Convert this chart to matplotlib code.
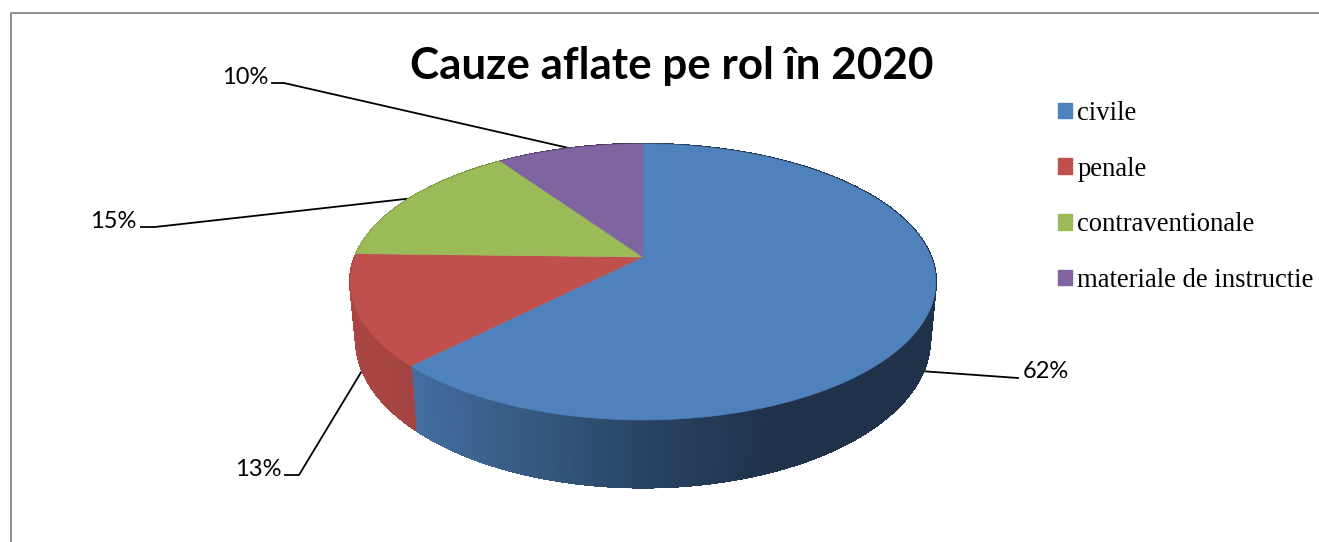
import numpy as np
import matplotlib
matplotlib.use("Agg")
import matplotlib.pyplot as plt
from matplotlib.collections import PolyCollection, LineCollection

title = "Cauze aflate pe rol în 2020"
categories = ["civile", "penale", "contraventionale", "materiale de instructie"]
values = [62.4, 13.0, 15.0, 9.6]
colors = ["#4F81BD", "#C0504D", "#9BBB59", "#8064A2"]

# where each percent label sits, and the bend of its leader line (pixels)
label_pos = [(1023, 371), (282, 469), (136, 221), (268, 77)]
elbow_pos = [(1018, 378), (299, 475), (155, 227), (284, 83)]
elbow_end = [(1018, 378), (285, 475), (141, 227), (272, 83)]

# pie geometry in pixels, a circle seen in perspective
CX, CY = 643, 257
B, A, K = 288, 133.5, 0.181
BOTTOM_CY, BOTTOM_SX, BOTTOM_SY = 313, 0.98, 1.07


def top_point(theta):
    u, v = np.sin(theta), np.cos(theta)
    w = 1 + K * v
    return CX + B * u / w, CY - A * v / w


def bottom_point(theta):
    u, v = np.sin(theta), np.cos(theta)
    w = 1 + K * v
    return CX + BOTTOM_SX * B * u / w, BOTTOM_CY - BOTTOM_SY * A * v / w


def wall_shade(x):
    return np.interp(x, [350, 415, 640, 770, 940], [0.88, 0.85, 0.53, 0.39, 0.39])


fig = plt.figure(figsize=(13.19, 5.42), dpi=100)
ax = fig.add_axes([0, 0, 1, 1])
ax.set_xlim(0, 1319)
ax.set_ylim(542, 0)
ax.axis("off")

# frame, only left and top are in the crop
ax.plot([11, 11, 1319], [542, 12.5, 12.5], color="#868686", lw=1.3, solid_capstyle="butt")

edges = np.cumsum([0] + values) / sum(values) * 2 * np.pi

# side wall first, the top covers the part behind it
for i in range(len(values)):
    thetas = np.linspace(edges[i], edges[i + 1], int(values[i] * 6) + 2)
    polys = []
    rim = []
    face = []
    base = np.array(matplotlib.colors.to_rgb(colors[i]))
    for t0, t1 in zip(thetas[:-1], thetas[1:]):
        x0, y0 = top_point(t0)
        x1, y1 = top_point(t1)
        x2, y2 = bottom_point(t1)
        x3, y3 = bottom_point(t0)
        polys.append([(x0, y0), (x1, y1), (x2, y2), (x3, y3)])
        rim.append([(x3, y3), (x2, y2)])
        face.append(base * wall_shade((x0 + x1 + x2 + x3) / 4))
    pc = PolyCollection(polys, facecolors=face, edgecolors=face, linewidths=1, antialiaseds=False, zorder=2)
    ax.add_collection(pc)
    # smooth the lower edge, the strips above have no antialiasing
    ax.add_collection(LineCollection(rim, colors=face, linewidths=1.2, capstyle="round", zorder=2))

# top of the pie
for i in range(len(values)):
    thetas = np.linspace(edges[i], edges[i + 1], 200)
    xs, ys = top_point(thetas)
    ax.fill(np.r_[CX, xs], np.r_[CY, ys], color=colors[i], lw=0.4, zorder=3)

# percent labels and leader lines
total = sum(values)
for i in range(len(values)):
    mid = (edges[i] + edges[i + 1]) / 2
    if np.cos(mid) < 0:
        px, py = bottom_point(mid)
    else:
        px, py = top_point(mid)
    ax.plot([elbow_end[i][0], elbow_pos[i][0], px], [elbow_end[i][1], elbow_pos[i][1], py],
            color="black", lw=1.3, zorder=1)
    ax.text(label_pos[i][0], label_pos[i][1], "%d%%" % round(values[i] / total * 100),
            family="Lato", fontsize=17, color="black", ha="left" if i == 0 else "right",
            va="center", zorder=5)

ax.text(671.5, 66, title, family="Lato", fontweight="bold", fontsize=31.7,
        ha="center", va="center", color="black")

handles = [plt.Rectangle((0, 0), 1, 1, color=c) for c in colors]
leg = ax.legend(handles, categories, loc="upper left", bbox_to_anchor=(1058 / 1319, 1 - 101 / 542),
                frameon=False, borderpad=0, borderaxespad=0, handlelength=0.53, handleheight=0.53,
                handletextpad=0.2, labelspacing=1.15,
                prop={"family": "Liberation Serif", "size": 19.2})

fig.savefig("out.png", dpi=100, facecolor="white")
